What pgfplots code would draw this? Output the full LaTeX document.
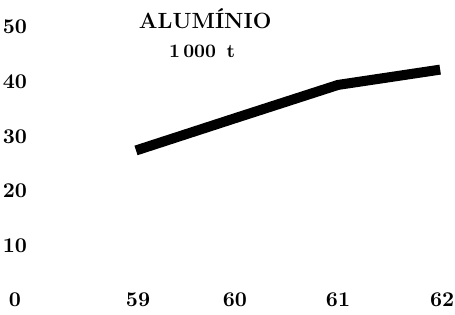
\documentclass[border=0pt]{standalone}
\usepackage{pgfplots}
\pgfplotsset{compat=1.18}
\begin{document}
\begin{tikzpicture}
\begin{axis}[
  scale only axis,
  width=216.6pt, height=136.5pt,
  xmin=57.79, xmax=62.05,
  ymin=0, ymax=50,
  axis line style={draw=none},
  major tick length=0pt,
  xtick={59,59.953,60.966,61.99},
  xticklabels={59,60,61,62},
  ytick={0,10,20,30,40,50},
  yticklabels={0,10,20,30,40,50},
  xticklabel style={anchor=center, inner sep=0pt},
  yticklabel style={anchor=center, inner sep=0pt},
  ticklabel style={font=\fontsize{10.5}{12}\selectfont\bfseries},
  clip=false,
]
\addplot[black, line width=5pt, line cap=butt, line join=round] coordinates {
  (58.98,27.4) (59.953,33.3) (60.966,39.4) (61.97,42.2)
};
\node[font=\fontsize{11}{13}\selectfont\bfseries] at (axis cs:59.66,51.47) {ALUMÍNIO};
\node[font=\fontsize{9.5}{11}\selectfont\bfseries] at (axis cs:59.63,45.6) {1\,000\, t};
\coordinate (bl) at (axis cs:57.643,-2.564);
\coordinate (tr) at (axis cs:62.116,54.95);
\end{axis}
\pgfresetboundingbox
\path[use as bounding box] (bl) rectangle (tr);
\end{tikzpicture}
\end{document}
